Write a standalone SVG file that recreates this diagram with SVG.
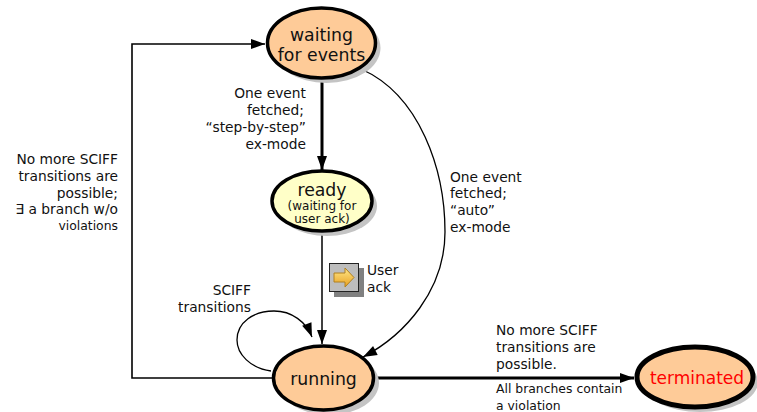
<svg xmlns="http://www.w3.org/2000/svg" width="757" height="412" viewBox="0 0 757 412">
<defs>
<marker id="ah" markerWidth="10" markerHeight="10" refX="9" refY="5" orient="auto" markerUnits="userSpaceOnUse" overflow="visible"><path d="M0 0L14 5L0 10Z" transform="translate(-5 0)" fill="#000"/></marker>
<linearGradient id="btn" x1="0" y1="0" x2="0" y2="1"><stop offset="0" stop-color="#ffe88a"/><stop offset="1" stop-color="#e8a020"/></linearGradient>
</defs>
<style>
text{font-family:"DejaVu Sans",Verdana,sans-serif;fill:#111}
.lb{font-size:13.8px}
.sm{font-size:12.4px}
.r{text-anchor:end}
.c{text-anchor:middle}
.big{font-size:17.3px}
.sh{fill:#c4c4c4;stroke:none}
.n{stroke:#000;stroke-width:3.5}
.o{fill:#fecb98}
.y{fill:#ffffc8}
.e{fill:none;stroke:#000}
</style>
<rect width="757" height="412" fill="#fff"/>
<g id="connectors">
<path class="e" stroke-width="1.6" d="M273 378H132V44H265" marker-end="url(#ah)"/>
<path class="e" stroke-width="3" d="M322 78V170" marker-end="url(#ah)"/>
<path class="e" stroke-width="1.3" d="M361 69C420 95 445 170 445 232C445 290 405 335 363 357" marker-end="url(#ah)"/>
<path class="e" stroke-width="1.5" d="M322 231V344" marker-end="url(#ah)"/>
<path class="e" stroke-width="1.3" d="M271 371C250 368 237 354 237 340C237 322 254 311 274 311C292 311 306 322 312 337" marker-end="url(#ah)"/>
<path class="e" stroke-width="3" d="M374 378H634" marker-end="url(#ah)"/>
</g>
<g id="waiting">
<ellipse class="sh" cx="326.500" cy="48" rx="54" ry="35"/>
<ellipse class="n o" cx="321.500" cy="43" rx="54" ry="35"/>
<text class="c big" x="321.500" y="41">waiting</text>
<text class="c big" x="321.500" y="61">for events</text>
</g>
<g id="ready">
<ellipse class="sh" cx="327" cy="206" rx="50" ry="30"/>
<ellipse class="n y" cx="322" cy="201" rx="50" ry="30"/>
<text class="c big" x="322" y="196">ready</text>
<text class="c" font-size="12" x="322" y="210">(waiting for</text>
<text class="c" font-size="12" x="322" y="223">user ack)</text>
</g>
<g id="running">
<ellipse class="sh" cx="329" cy="383" rx="50" ry="32"/>
<ellipse class="n o" cx="323.500" cy="378" rx="50" ry="32"/>
<text class="c big" x="323.500" y="385">running</text>
</g>
<g id="terminated">
<ellipse class="sh" cx="700" cy="382" rx="58" ry="30"/>
<ellipse class="o" stroke="#000" stroke-width="5" cx="695" cy="377" rx="58" ry="30"/>
<text class="c" font-size="17" x="697" y="384" style="fill:#f00">terminated</text>
</g>
<g id="userack">
<rect x="334" y="268" width="30" height="29" fill="#808080"/>
<rect x="329.500" y="263.500" width="29" height="28" fill="#bdbdbd" stroke="#222" stroke-width="1"/>
<path d="M334 273H345V268L354 277.500L345 287V282H334Z" fill="url(#btn)" stroke="#b08020" stroke-width="1"/>
<text class="lb" x="367" y="275">User</text>
<text class="lb" x="367" y="292">ack</text>
</g>
<g id="labels">
<text class="lb r" x="306" y="98">One event</text>
<text class="lb r" x="304" y="115">fetched;</text>
<text class="lb r" x="306" y="132">“step-by-step”</text>
<text class="lb r" x="306" y="149">ex-mode</text>
<text class="lb" x="450" y="182">One event</text>
<text class="lb" x="450" y="198">fetched;</text>
<text class="lb" x="450" y="215">“auto”</text>
<text class="lb" x="450" y="232">ex-mode</text>
<text class="lb r" x="118" y="164">No more SCIFF</text>
<text class="lb r" x="118" y="181">transitions are</text>
<text class="lb r" x="118" y="198">possible;</text>
<text class="lb r" x="118" y="214">∃ a branch w/o</text>
<text class="sm r" x="118" y="230">violations</text>
<text class="lb r" x="251" y="295">SCIFF</text>
<text class="lb r" x="251" y="312">transitions</text>
<text class="lb" x="496" y="335">No more SCIFF</text>
<text class="lb" x="496" y="352">transitions are</text>
<text class="lb" x="496" y="369">possible.</text>
<text class="sm" x="496" y="393">All branches contain</text>
<text class="sm" x="496" y="410">a violation</text>
</g>
</svg>
